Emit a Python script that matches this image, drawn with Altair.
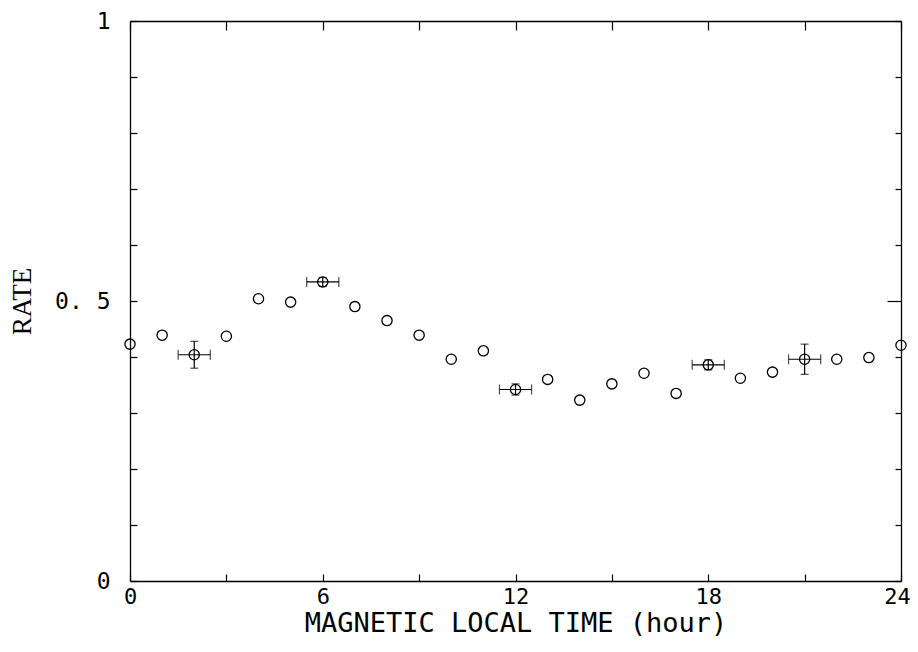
import altair as alt
import pandas as pd

# ---- data ----
hours = list(range(25))
rate = [0.423, 0.439, 0.404, 0.437, 0.504, 0.498, 0.534, 0.490, 0.465, 0.439,
        0.396, 0.411, 0.342, 0.360, 0.323, 0.352, 0.371, 0.335, 0.386, 0.362,
        0.373, 0.396, 0.396, 0.399, 0.421]

err_hours = [2, 6, 12, 18, 21]
err_rate = [0.404, 0.534, 0.342, 0.386, 0.396]
err_dx = [0.5, 0.5, 0.5, 0.5, 0.5]
err_dy = [0.024, 0.008, 0.010, 0.009, 0.027]

x_label_values = [0, 6, 12, 18, 24]
x_tick_values = [0, 3, 6, 9, 12, 15, 18, 21, 24]
y_label_values = [0, 0.5, 1]
y_label_texts = ["0", "0. 5", "1"]
y_tick_values = [0, 0.1, 0.2, 0.3, 0.4, 0.5, 0.6, 0.7, 0.8, 0.9, 1.0]

df = pd.DataFrame({"hour": hours, "rate": rate})
edf = pd.DataFrame({"hour": err_hours, "rate": err_rate, "dx": err_dx, "dy": err_dy})
edf["xlo"] = edf["hour"] - edf["dx"]
edf["xhi"] = edf["hour"] + edf["dx"]
edf["ylo"] = edf["rate"] - edf["dy"]
edf["yhi"] = edf["rate"] + edf["dy"]

W, H = 771, 560
xs = alt.Scale(domain=[0, 24], nice=False, zero=False)
ys = alt.Scale(domain=[0, 1], nice=False, zero=False)

label_expr = " : ".join(
    f"datum.value == {v} ? '{t}'" for v, t in zip(y_label_values[:-1], y_label_texts[:-1])
) + f" : '{y_label_texts[-1]}'"

LFONT = "DejaVu Sans Mono"

points = alt.Chart(df).mark_point(
    shape="circle", filled=False, size=105, color="black", strokeWidth=1.3, opacity=1
).encode(
    x=alt.X("hour:Q", scale=xs, axis=alt.Axis(
        orient="bottom", values=x_label_values, ticks=False, tickSize=0,
        labelPadding=5, labelFont=LFONT, labelFontSize=22, labelColor="black",
        labelOffset={"condition": {"test": f"datum.value == {x_label_values[-1]}", "value": -4}, "value": 0},
        title="MAGNETIC LOCAL TIME (hour)", titleFont=LFONT, titleFontSize=27,
        titleFontWeight="normal", titleColor="black", titlePadding=3,
        domain=True, domainColor="black", domainWidth=1.3, grid=False,
        labelFlush=False)),
    y=alt.Y("rate:Q", scale=ys, axis=alt.Axis(
        orient="left", values=y_label_values, labelExpr=label_expr,
        ticks=False, tickSize=0, labelPadding=20, labelFont=LFONT,
        labelFontSize=23, labelColor="black", labelBaseline="middle",
        title="RATE", titleFont="Liberation Serif", titleFontSize=27,
        titleFontWeight="normal", titleColor="black", titlePadding=18,
        domain=True, domainColor="black", domainWidth=1.3, grid=False,
        labelFlush=False)),
)

# inward ticks on bottom & left edges
ticks_bl = alt.Chart(df).mark_point(opacity=0).encode(
    x=alt.X("hour:Q", scale=xs, axis=alt.Axis(
        orient="top", offset=-H, values=x_tick_values, labels=False,
        domain=False, ticks=True, tickSize=7, tickColor="black",
        tickWidth=1.2, title=None, grid=False)),
    y=alt.Y("rate:Q", scale=ys, axis=alt.Axis(
        orient="right", offset=-W, values=y_tick_values, labels=False,
        domain=False, ticks=True, tickSize=7, tickColor="black",
        tickWidth=1.2, title=None, grid=False)),
)

# inward ticks + borders on top & right edges
ticks_tr = alt.Chart(df).mark_point(opacity=0).encode(
    x=alt.X("hour:Q", scale=xs, axis=alt.Axis(
        orient="bottom", offset=-H, values=x_tick_values, labels=False,
        domain=True, domainColor="black", domainWidth=1.3, ticks=True,
        tickSize=9, tickColor="black", tickWidth=1.2, title=None, grid=False)),
    y=alt.Y("rate:Q", scale=ys, axis=alt.Axis(
        orient="left", offset=-W, values=y_tick_values, labels=False,
        domain=True, domainColor="black", domainWidth=1.3, ticks=True,
        tickSize={"condition": {"test": "datum.value == 0.5", "value": 14}, "value": 6},
        tickColor="black", tickWidth=1.2, title=None, grid=False)),
)

ebase = alt.Chart(edf)
hbar = ebase.mark_rule(color="black", strokeWidth=1.2).encode(
    x=alt.X("xlo:Q", scale=xs, axis=None), x2="xhi:Q",
    y=alt.Y("rate:Q", scale=ys, axis=None))
hcap_lo = ebase.mark_tick(orient="vertical", size=10, thickness=1.2, color="black").encode(
    x=alt.X("xlo:Q", scale=xs, axis=None), y=alt.Y("rate:Q", scale=ys, axis=None))
hcap_hi = ebase.mark_tick(orient="vertical", size=10, thickness=1.2, color="black").encode(
    x=alt.X("xhi:Q", scale=xs, axis=None), y=alt.Y("rate:Q", scale=ys, axis=None))
vbar = ebase.mark_rule(color="black", strokeWidth=1.2).encode(
    x=alt.X("hour:Q", scale=xs, axis=None),
    y=alt.Y("ylo:Q", scale=ys, axis=None), y2="yhi:Q")
vcap_lo = ebase.mark_tick(orient="horizontal", size=8, thickness=1.2, color="black").encode(
    x=alt.X("hour:Q", scale=xs, axis=None), y=alt.Y("ylo:Q", scale=ys, axis=None))
vcap_hi = ebase.mark_tick(orient="horizontal", size=8, thickness=1.2, color="black").encode(
    x=alt.X("hour:Q", scale=xs, axis=None), y=alt.Y("yhi:Q", scale=ys, axis=None))

chart = alt.layer(
    points, ticks_bl, ticks_tr, hbar, hcap_lo, hcap_hi, vbar, vcap_lo, vcap_hi
).resolve_axis(x="independent", y="independent").properties(
    width=W, height=H,
    autosize=alt.AutoSizeParams(type="none"),
    padding={"left": 122, "top": 13, "right": 9, "bottom": 62},
    background="white",
).configure_view(stroke=None)

chart.save("out.html", embed_options={"renderer": "svg", "actions": False})
